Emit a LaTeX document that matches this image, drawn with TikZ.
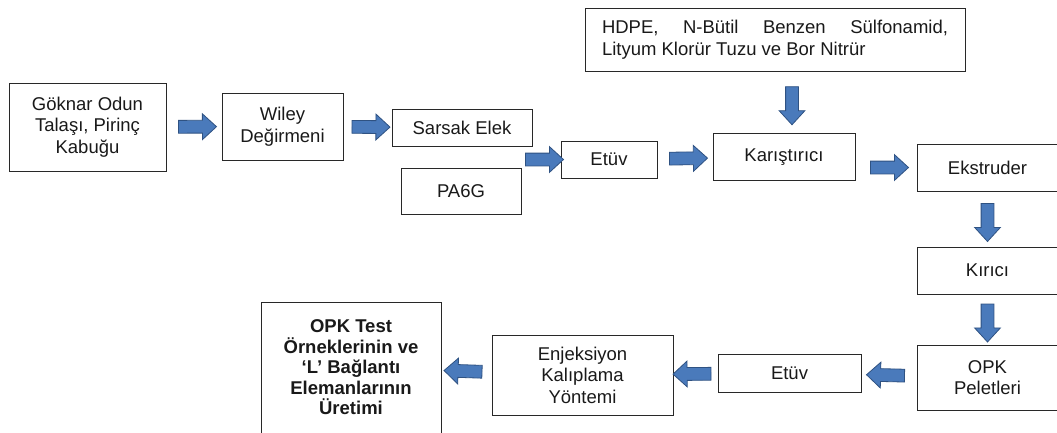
\documentclass[tikz,border=0pt]{standalone}
\usepackage{fontspec}
\setmainfont{Liberation Sans}
\usetikzlibrary{shapes.arrows}

\definecolor{flowfill}{RGB}{74, 122, 187}
\definecolor{flowline}{RGB}{47, 82, 130}
\definecolor{boxline}{RGB}{40, 40, 40}
\definecolor{boxtext}{RGB}{25, 25, 25}

\begin{document}
\begin{tikzpicture}[
  x=1pt,
  y=-1pt,
  box/.style={draw=boxline, line width=1pt, inner sep=0pt, align=center, text=boxtext,
    font=\fontsize{18.5}{21.5}\selectfont},
  boldbox/.style={box, font=\bfseries\fontsize{18.5}{20.5}\selectfont},
  blockarrow/.style={single arrow, draw=flowline, fill=flowfill, line width=0.8pt,
    minimum height=38pt, single arrow head extend=6.5pt,
    single arrow tip angle=85, inner xsep=0pt, inner ysep=6pt},
  flow/.style={to path={(\tikztostart) -- (\tikztotarget)
    node[blockarrow, midway, sloped, allow upside down] {}}}
]

  \useasboundingbox (0, 0) rectangle (1057, 432);

  % Top row: wood and husk preparation
  \node[box, minimum width=157pt, minimum height=88pt] (goknar) at (87.5, 127) {Göknar Odun\\Talaşı, Pirinç\\Kabuğu};
  \node[box, minimum width=121pt, minimum height=67pt] (wiley) at (282.5, 126.5) {Wiley\\Değirmeni};
  \node[box, minimum width=140pt, minimum height=37pt] (sarsak) at (462, 127.5) {Sarsak Elek};
  \node[box, minimum width=120pt, minimum height=46pt] (pa6g) at (461, 191) {PA6G};
  \node[box, minimum width=96pt, minimum height=37pt] (etuvA) at (609, 159.5) {Etüv};
  \node[box, minimum width=142pt, minimum height=47pt] (mix) at (784, 157) {Karıştırıcı};

  % Additives fed into the mixer
  \node[box, text width=346pt, align=justify, inner xsep=17pt, minimum height=63pt] (additives) at (775, 39.5)
    {HDPE, N-Bütil Benzen Sülfonamid,\linebreak Lityum Klorür Tuzu ve Bor Nitrür};

  % Right column, running off the edge
  \node[box, minimum width=141pt, minimum height=47pt] (extruder) at (987.5, 167.5) {Ekstruder};
  \node[box, minimum width=141pt, minimum height=47pt] (crusher) at (987.5, 270.5) {Kırıcı};
  \node[box, minimum width=141pt, minimum height=65pt] (pellets) at (987.5, 377.5) {OPK\\Peletleri};

  % Bottom row, back to the left
  \node[box, minimum width=143pt, minimum height=38pt] (etuvB) at (789.5, 373) {Etüv};
  \node[box, minimum width=181pt, minimum height=80pt] (molding) at (582.5, 375) {Enjeksiyon\\Kalıplama\\Yöntemi};
  \node[boldbox, minimum width=180pt, minimum height=131pt] (samples) at (351, 367.5)
    {OPK Test\\Örneklerinin ve\\‘L’ Bağlantı\\Elemanlarının\\Üretimi};

  % Block arrows
  \coordinate (feed) at (pa6g.east |- etuvA.west);
  \coordinate (drop) at ([xshift=8pt]additives.south -| mix.north);
  \path (goknar) to[flow] (wiley);
  \path (wiley) to[flow] (sarsak);
  \path (feed) to[flow] (etuvA.west);
  \path (etuvA) to[flow] (mix);
  \path (drop) to[flow] (drop |- mix.north);
  \path (mix.east |- extruder.west) to[flow] (extruder.west);
  \path (extruder) to[flow] (crusher);
  \path (crusher) to[flow] (pellets);
  \path (pellets) to[flow] (etuvB);
  \path (etuvB) to[flow] (molding);
  \path (molding) to[flow] (samples);

\end{tikzpicture}
\end{document}
